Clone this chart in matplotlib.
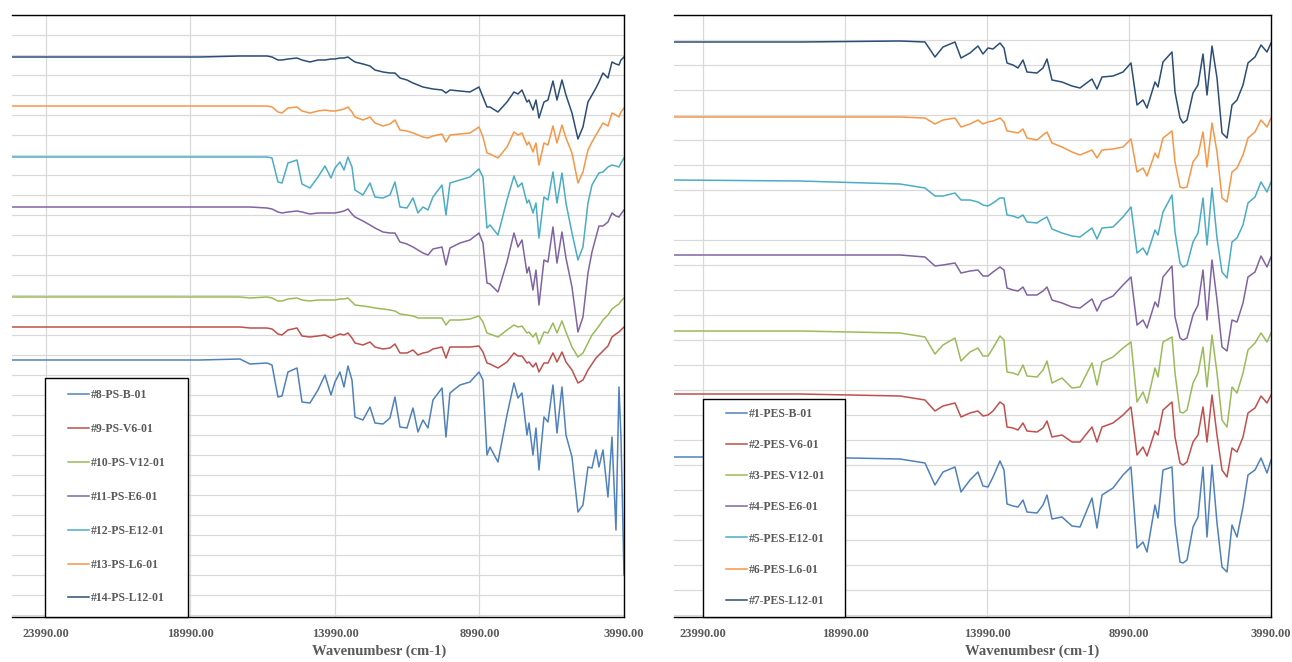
import matplotlib
matplotlib.use("Agg")
import matplotlib.pyplot as plt
from matplotlib.patches import Rectangle

# ---- left panel (PS samples) -------------------------------------------
wn_left = [25166, 21430, 18662, 17278, 16932, 16343, 16170, 15963, 15824, 15617,
           15305, 15132, 14856, 14579, 14337, 14129, 13991, 13818, 13679, 13541,
           13402, 13299, 13022, 12780, 12607, 12330, 12088, 11915, 11742, 11499,
           11292, 11119, 10946, 10773, 10600, 10288, 10150, 10012, 9666, 9320,
           9008, 8870, 8731, 8628, 8351, 8039, 7797, 7659, 7520, 7347,
           7278, 7140, 7036, 6932, 6759, 6621, 6448, 6309, 6136, 5998,
           5790, 5583, 5410, 5237, 5098, 4960, 4856, 4718, 4545, 4406,
           4268, 4164, 4095, 3990]

ps_b = [12.75, 12.75, 12.75, 12.8, 12.55, 12.6, 12.5, 10.9, 10.95, 12.15,
        12.35, 10.65, 10.6, 11.25, 12.0, 11.0, 11.65, 12.15, 11.4, 12.45,
        11.75, 9.9, 9.75, 10.4, 9.6, 9.55, 9.85, 10.9, 9.4, 9.35,
        10.35, 9.15, 9.75, 9.35, 10.75, 11.35, 8.9, 11.1, 11.5, 11.65,
        12.15, 11.75, 8.0, 8.4, 7.65, 10.0, 11.6, 10.85, 11.1, 9.0,
        9.6, 8.0, 9.35, 7.25, 9.9, 9.65, 11.5, 9.1, 11.4, 9.0,
        7.9, 5.15, 5.5, 7.4, 7.35, 8.25, 7.4, 8.25, 5.9, 8.9,
        4.25, 11.4, 8.9, 2.0]
ps_v6 = [14.4, 14.4, 14.4, 14.4, 14.35, 14.35, 14.3, 14.05, 14.0, 14.25,
         14.35, 13.95, 13.9, 13.95, 14.0, 13.85, 13.95, 14.05, 14.0, 14.1,
         13.85, 13.6, 13.5, 13.65, 13.4, 13.3, 13.35, 13.55, 13.1, 13.1,
         13.25, 13.0, 13.1, 13.15, 13.3, 13.4, 12.85, 13.4, 13.4, 13.4,
         13.45, 13.15, 12.6, 12.55, 12.35, 12.65, 13.1, 12.95, 12.95, 12.6,
         12.65, 12.4, 12.6, 12.15, 12.6, 12.6, 13.1, 12.65, 13.15, 12.65,
         12.25, 11.6, 11.75, 12.25, 12.55, 12.85, 13.0, 13.2, 13.45, 13.9,
         14.05, 14.15, 14.25, 14.4]
ps_v12 = [15.9, 15.9, 15.9, 15.9, 15.85, 15.9, 15.85, 15.7, 15.7, 15.8,
          15.85, 15.75, 15.7, 15.75, 15.75, 15.75, 15.75, 15.8, 15.8, 15.85,
          15.65, 15.5, 15.45, 15.4, 15.35, 15.3, 15.25, 15.2, 15.05, 15.0,
          14.95, 14.85, 14.85, 14.85, 14.85, 14.85, 14.5, 14.75, 14.75, 14.8,
          14.95, 14.65, 14.1, 14.05, 13.9, 14.25, 14.5, 14.4, 14.45, 14.1,
          14.15, 13.9, 14.1, 13.55, 14.15, 14.1, 14.6, 14.1, 14.7, 14.15,
          13.4, 12.9, 13.1, 13.6, 14.0, 14.25, 14.45, 14.75, 15.0, 15.3,
          15.45, 15.55, 15.7, 15.85]
ps_e6 = [20.4, 20.4, 20.4, 20.4, 20.4, 20.35, 20.3, 20.15, 20.1, 20.15,
         20.2, 20.15, 20.05, 20.1, 20.1, 20.1, 20.1, 20.15, 20.2, 20.3,
         20.05, 19.9, 19.7, 19.5, 19.35, 19.15, 19.1, 19.1, 18.65, 18.55,
         18.4, 18.25, 18.1, 18.0, 18.3, 18.4, 17.5, 18.35, 18.6, 18.75,
         19.1, 18.6, 16.6, 16.55, 16.15, 17.65, 19.1, 18.4, 18.75, 17.1,
         17.4, 16.25, 17.25, 15.5, 17.75, 17.65, 19.4, 17.6, 19.15, 17.85,
         16.4, 14.15, 14.9, 17.1, 18.15, 18.9, 19.45, 19.45, 19.65, 20.1,
         19.95, 19.9, 20.05, 20.25]
ps_e12 = [22.9, 22.9, 22.9, 22.9, 22.9, 22.9, 22.85, 21.65, 21.6, 22.6,
          22.75, 21.55, 21.35, 21.9, 22.45, 21.85, 22.35, 22.65, 22.25, 22.9,
          22.4, 21.25, 21.0, 21.6, 20.9, 20.85, 21.0, 21.65, 20.4, 20.35,
          20.85, 20.1, 20.4, 20.25, 20.9, 21.5, 20.0, 21.6, 21.75, 21.9,
          22.3, 21.9, 19.35, 19.5, 19.0, 20.75, 21.95, 21.4, 21.6, 20.6,
          20.75, 20.1, 20.6, 18.85, 20.9, 20.75, 22.15, 20.6, 22.1, 20.6,
          19.1, 17.75, 18.4, 20.6, 21.5, 21.85, 22.1, 22.15, 22.4, 22.5,
          22.45, 22.4, 22.6, 22.85]
ps_l6 = [25.45, 25.45, 25.45, 25.45, 25.45, 25.45, 25.4, 25.15, 25.1, 25.35,
         25.4, 25.2, 25.1, 25.2, 25.25, 25.2, 25.2, 25.25, 25.3, 25.4,
         25.15, 24.9, 24.75, 24.9, 24.6, 24.45, 24.55, 24.75, 24.25, 24.2,
         24.1, 24.0, 23.9, 23.85, 23.95, 24.05, 23.65, 24.0, 24.05, 24.1,
         24.4, 23.9, 23.1, 23.05, 22.85, 23.4, 24.15, 24.0, 24.1, 23.5,
         23.65, 23.15, 23.6, 22.5, 23.6, 23.5, 24.45, 23.6, 24.5, 23.85,
         23.1, 21.6, 22.15, 23.25, 23.65, 24.0, 24.25, 24.6, 24.45, 25.1,
         25.0, 24.9, 25.15, 25.35]
ps_l12 = [27.9, 27.9, 27.9, 27.95, 27.95, 27.95, 27.9, 27.75, 27.75, 27.8,
          27.85, 27.75, 27.65, 27.75, 27.75, 27.8, 27.8, 27.85, 27.85, 27.9,
          27.75, 27.65, 27.55, 27.45, 27.25, 27.15, 27.1, 27.1, 26.85, 26.75,
          26.6, 26.5, 26.4, 26.35, 26.3, 26.25, 26.1, 26.25, 26.2, 26.15,
          26.4, 25.9, 25.4, 25.4, 25.15, 25.65, 26.15, 26.05, 26.25, 25.65,
          25.75, 25.25, 25.75, 24.85, 25.65, 25.75, 26.7, 25.75, 26.75, 26.0,
          25.1, 23.8, 24.4, 25.65, 26.0, 26.35, 26.65, 27.1, 26.85, 27.65,
          27.55, 27.5, 27.75, 27.9]

left_series = [ps_b, ps_v6, ps_v12, ps_e6, ps_e12, ps_l6, ps_l12]
left_labels = ["#8-PS-B-01", "#9-PS-V6-01", "#10-PS-V12-01", "#11-PS-E6-01",
               "#12-PS-E12-01", "#13-PS-L6-01", "#14-PS-L12-01"]

# ---- right panel (PES samples) -----------------------------------------
wn_right = [25010, 20574, 17053, 16173, 15821, 15539, 15116, 14905, 14588, 14307,
            14130, 13954, 13778, 13532, 13391, 13285, 13074, 12898, 12722, 12581,
            12229, 12018, 11877, 11701, 11349, 10997, 10715, 10293, 10117, 9940,
            9553, 9201, 8919, 8708, 8497, 8356, 8074, 7969, 7793, 7476,
            7370, 7194, 7088, 6948, 6736, 6560, 6384, 6243, 6067, 5891,
            5715, 5539, 5363, 5187, 4976, 4800, 4553, 4342, 4131, 3990]

pes_b = [6.32, 6.32, 6.24, 6.08, 5.2, 5.72, 5.92, 4.92, 5.4, 5.72,
         5.16, 5.12, 5.52, 6.16, 5.8, 4.44, 4.36, 4.32, 4.6, 4.12,
         4.08, 4.4, 4.8, 3.84, 3.92, 3.56, 3.52, 4.68, 3.48, 4.8,
         5.08, 5.6, 5.92, 2.68, 2.92, 2.52, 4.4, 3.88, 5.8, 5.92,
         3.68, 2.12, 2.08, 2.2, 3.52, 3.92, 5.92, 3.12, 6.0, 3.68,
         1.92, 1.72, 3.6, 3.12, 4.32, 5.6, 5.8, 6.28, 5.68, 6.2]
pes_v6 = [8.84, 8.84, 8.76, 8.6, 8.16, 8.36, 8.48, 7.92, 8.08, 8.16,
          7.96, 8.0, 8.16, 8.52, 8.4, 7.52, 7.48, 7.4, 7.68, 7.36,
          7.32, 7.48, 7.76, 7.12, 7.2, 6.92, 6.92, 7.52, 6.92, 7.52,
          7.68, 8.0, 8.32, 6.4, 6.72, 6.36, 7.36, 7.2, 8.2, 8.52,
          7.12, 6.08, 6.0, 6.12, 6.92, 7.2, 8.32, 6.92, 8.8, 7.2,
          5.8, 5.52, 6.68, 6.52, 7.12, 8.08, 8.28, 8.76, 8.48, 8.8]
pes_v12 = [11.36, 11.36, 11.28, 11.12, 10.44, 10.8, 11.08, 10.16, 10.52, 10.68,
           10.36, 10.36, 10.68, 11.16, 11.0, 9.72, 9.68, 9.6, 10.0, 9.56,
           9.52, 9.8, 10.16, 9.28, 9.48, 9.08, 9.12, 10.08, 9.2, 10.12,
           10.32, 10.68, 10.92, 8.52, 8.92, 8.48, 9.88, 9.52, 10.92, 11.12,
           9.68, 8.12, 8.08, 8.2, 9.28, 9.68, 10.72, 9.12, 11.2, 9.68,
           7.8, 7.52, 9.12, 8.88, 9.68, 10.6, 10.88, 11.28, 10.92, 11.28]
pes_e6 = [14.4, 14.4, 14.4, 14.32, 13.96, 14.0, 14.08, 13.68, 13.76, 13.8,
          13.56, 13.56, 13.72, 13.92, 13.8, 13.08, 13.0, 12.96, 13.12, 12.8,
          12.8, 12.96, 13.12, 12.6, 12.48, 12.32, 12.28, 12.64, 12.16, 12.56,
          12.76, 13.2, 13.52, 11.6, 11.8, 11.48, 12.52, 12.32, 13.52, 13.96,
          11.92, 11.08, 11.0, 11.08, 12.0, 12.4, 13.8, 11.8, 14.2, 12.6,
          10.72, 10.56, 11.8, 11.72, 12.48, 13.52, 13.72, 14.36, 13.92, 14.32]
pes_e12 = [17.4, 17.36, 17.24, 17.08, 16.76, 16.76, 16.88, 16.6, 16.6, 16.52,
           16.4, 16.36, 16.48, 16.68, 16.68, 16.0, 15.96, 15.88, 16.0, 15.72,
           15.68, 15.84, 15.92, 15.44, 15.28, 15.16, 15.12, 15.48, 15.04, 15.48,
           15.52, 15.92, 16.32, 14.48, 14.68, 14.4, 15.4, 15.2, 16.12, 16.8,
           15.32, 14.08, 13.92, 14.0, 14.92, 15.28, 16.68, 14.8, 17.08, 15.08,
           13.72, 13.48, 14.92, 15.08, 15.6, 16.48, 16.72, 17.32, 16.92, 17.32]
pes_l6 = [19.92, 19.92, 19.92, 19.88, 19.64, 19.8, 19.88, 19.52, 19.64, 19.8,
          19.64, 19.72, 19.76, 19.88, 19.72, 19.36, 19.32, 19.28, 19.44, 19.08,
          19.0, 19.2, 19.32, 18.88, 18.72, 18.52, 18.4, 18.6, 18.28, 18.6,
          18.64, 18.72, 19.04, 17.72, 17.88, 17.56, 18.48, 18.28, 19.08, 19.36,
          18.12, 17.12, 17.08, 17.12, 18.12, 18.4, 19.32, 17.92, 19.68, 18.52,
          16.68, 16.52, 17.72, 17.88, 18.4, 19.08, 19.32, 19.8, 19.52, 19.88]
pes_l12 = [22.92, 22.92, 22.96, 22.92, 22.32, 22.72, 22.92, 22.28, 22.48, 22.76,
           22.44, 22.68, 22.64, 22.88, 22.68, 22.08, 22.0, 21.88, 22.2, 21.72,
           21.68, 21.88, 22.24, 21.4, 21.32, 21.16, 21.08, 21.44, 21.04, 21.52,
           21.56, 21.72, 22.08, 20.4, 20.6, 20.28, 21.32, 21.12, 22.12, 22.52,
           20.92, 19.88, 19.68, 19.8, 20.88, 21.2, 22.44, 20.8, 22.76, 21.48,
           19.28, 19.08, 20.4, 20.6, 21.2, 22.08, 22.32, 22.8, 22.52, 22.88]

right_series = [pes_b, pes_v6, pes_v12, pes_e6, pes_e12, pes_l6, pes_l12]
right_labels = ["#1-PES-B-01", "#2-PES-V6-01", "#3-PES-V12-01", "#4-PES-E6-01",
                "#5-PES-E12-01", "#6-PES-L6-01", "#7-PES-L12-01"]

colors = ["#4F81BD", "#C0504D", "#9BBB59", "#8064A2", "#4BACC6", "#F79646", "#2C4D75"]
tick_pos = [23990, 18990, 13990, 8990, 3990]
tick_txt = ["23990.00", "18990.00", "13990.00", "8990.00", "3990.00"]

for s in left_series:
    assert len(s) == len(wn_left)
for s in right_series:
    assert len(s) == len(wn_right)

TXT = "#595959"
SERIF = "Liberation Serif"


def draw_panel(ax, wn, series, labels, x_left, y_top, box, leg_anchor, spacing):
    lines = []
    for vals, c in zip(series, colors):
        ln, = ax.plot(wn, vals, color=c, lw=1.1, zorder=2)
        lines.append(ln)

    ax.set_xlim(x_left, 3990)
    ax.set_ylim(-y_top / 300, y_top)
    ax.set_xticks(tick_pos)
    ax.set_xticklabels(tick_txt, fontfamily=SERIF, fontweight="bold",
                       fontsize=9, color=TXT)
    ax.set_yticks(range(0, int(y_top) + 1))
    ax.tick_params(axis="y", length=0, labelleft=False)
    ax.tick_params(axis="x", length=0, pad=8)
    ax.grid(True, color="#D9D9D9", lw=0.9)
    ax.set_axisbelow(True)
    ax.spines["left"].set_visible(False)
    for side in ("top", "right", "bottom"):
        ax.spines[side].set_color("black")
        ax.spines[side].set_linewidth(1.0)

    ax.set_xlabel("Wavenumbesr (cm-1)", fontfamily=SERIF, fontweight="bold",
                  fontsize=10.5, color=TXT)
    ax.xaxis.set_label_coords(0.6, -0.045)

    # legend: white box with a black border sitting on the bottom axis line
    ax.add_patch(Rectangle((box[0], 0), box[1], box[2], transform=ax.transAxes,
                           facecolor="white", edgecolor="black", lw=1.0,
                           zorder=5, clip_on=False))
    leg = ax.legend(lines, labels, loc="upper left", bbox_to_anchor=leg_anchor,
                    frameon=False, borderpad=0, borderaxespad=0,
                    labelspacing=spacing, handlelength=1.8, handletextpad=0.15,
                    prop={"family": SERIF, "weight": "bold", "size": 8.5})
    for t in leg.get_texts():
        t.set_color(TXT)
    leg.set_zorder(6)


fig = plt.figure(figsize=(12.92, 6.62), dpi=100)
ax_l = fig.add_axes([12 / 1292, 45 / 662, 612 / 1292, 602 / 662])
ax_r = fig.add_axes([674 / 1292, 45 / 662, 597 / 1292, 602 / 662])

draw_panel(ax_l, wn_left, left_series, left_labels, 25166, 30,
           (0.054, 0.234, 0.397), (0.0915, 0.378), 1.85)
draw_panel(ax_r, wn_right, right_series, right_labels, 25010, 24,
           (0.0486, 0.238, 0.362), (0.087, 0.347), 1.62)

fig.savefig("out.png", dpi=100)
